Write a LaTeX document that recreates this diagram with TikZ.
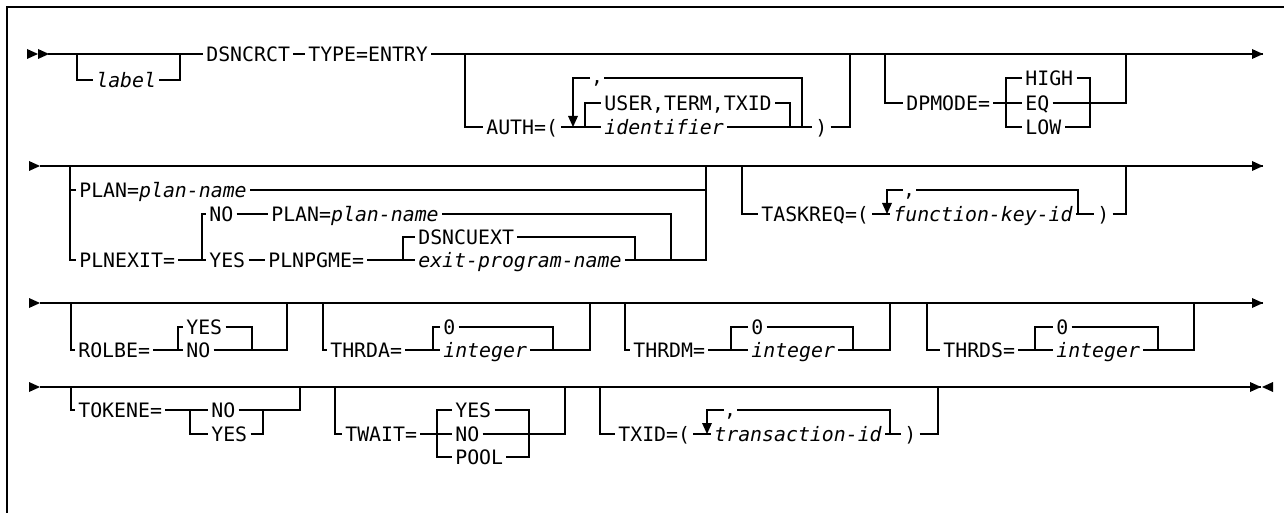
\documentclass[tikz,border=0pt]{standalone}
\usepackage{fontspec}
\setmonofont{DejaVu Sans Mono}
\usepackage{tikz}
\newcommand{\railfont}{\ttfamily\fontsize{11.3}{13}\selectfont}
\newcommand{\railgo}[2]{%
    % #1=x of tip, #2=y : arrowhead pointing right
    \fill (#1-11,#2-5) -- (#1,#2) -- (#1-11,#2+5) -- cycle;
}
\newcommand{\railback}[2]{%
    % #1=x of tip, #2=y : arrowhead pointing left
    \fill (#1+11,#2-5) -- (#1,#2) -- (#1+11,#2+5) -- cycle;
}
\newcommand{\raildown}[2]{%
    % #1=x, #2=y of tip : repeat arrow pointing down
    \fill (#1-5,#2-11) -- (#1,#2) -- (#1+5,#2-11) -- cycle;
}

\begin{document}
\begin{tikzpicture}[x=0.02cm, y=-0.02cm, line width=0.8pt,
    kw/.style={font=\railfont, inner sep=1.5pt, text height=8.2pt, text depth=0pt, anchor=west},
    var/.style={kw, font=\railfont\itshape}
]
    \useasboundingbox (0,0) rectangle (1284,513);
    \draw[line width=0.9pt] (7,513) -- (7,7) -- (1284,7);

    % row 1
    \railgo{38}{54}
    \railgo{49}{54}
    \node[kw] (dsn) at (203,54) {DSNCRCT};
    \node[kw] (type) at (305,54) {TYPE=ENTRY};
    \node[var] (label) at (93,80) {label};
    \draw (48,54) -- (dsn.west);
    \draw (77,54) |- (label.west);
    \draw (label.east) -| (180,54);
    \draw (dsn.east) -- (type.west);
    \draw (type.east) -- (1263,54);
    \railgo{1263}{54}

    \node[kw] (auth) at (483,127) {AUTH=(};
    \node[kw] (user) at (601,103) {USER,TERM,TXID};
    \node[var] (ident) at (601,127) {identifier};
    \node[kw] (aclose) at (812,127) {)};
    \node[kw, anchor=base] (acomma) at (597,84) {,};
    \draw (465,54) |- (auth.west);
    \draw (auth.east) -- (ident.west);
    \draw (585,127) |- (user.west);
    \draw (user.east) -| (790,127);
    \draw (ident.east) -- (aclose.west);
    \draw (aclose.east) -| (850,54);
    \draw (802,127) |- (604,78);
    \draw (590,78) -| (573,117);
    \raildown{573}{127}

    \node[kw] (dpm) at (903,103) {DPMODE=};
    \node[kw] (high) at (1022,78) {HIGH};
    \node[kw] (eq) at (1022,103) {EQ};
    \node[kw] (low) at (1022,127) {LOW};
    \draw (885,54) |- (dpm.west);
    \draw (dpm.east) -- (eq.west);
    \draw (high.west) -| (1006,127) -- (low.west);
    \draw (high.east) -| (1090,127) -- (low.east);
    \draw (eq.east) -| (1126,54);

    % row 2
    \railgo{40}{166}
    \draw (40,166) -- (1263,166);
    \railgo{1263}{166}
    \node[kw] (plan) at (76,190) {PLAN=\textit{plan-name}};
    \node[kw] (plnexit) at (76,260) {PLNEXIT=};
    \node[kw] (no) at (206,214) {NO};
    \node[kw] (plan2) at (268,214) {PLAN=\textit{plan-name}};
    \node[kw] (yes) at (206,260) {YES};
    \node[kw] (pgme) at (265,260) {PLNPGME=};
    \node[kw] (cuext) at (415,237) {DSNCUEXT};
    \node[var] (exitpgm) at (415,260) {exit-program-name};
    \draw (70,166) |- (plan.west);
    \draw (70,166) |- (plnexit.west);
    \draw (plan.east) -| (706,166);
    \draw (plnexit.east) -- (yes.west);
    \draw (202,260) |- (no.west);
    \draw (no.east) -- (plan2.west);
    \draw (plan2.east) -| (671,260);
    \draw (yes.east) -- (pgme.west);
    \draw (pgme.east) -- (exitpgm.west);
    \draw (403,260) |- (cuext.west);
    \draw (cuext.east) -| (635,260);
    \draw (exitpgm.east) -| (706,166);

    \node[kw] (taskreq) at (758,214) {TASKREQ=(};
    \node[var] (fkey) at (890,214) {function-key-id};
    \node[kw] (tclose) at (1094,214) {)};
    \node[kw, anchor=base] (tcomma) at (909,196) {,};
    \draw (742,166) |- (taskreq.west);
    \draw (taskreq.east) -- (fkey.west);
    \draw (fkey.east) -- (tclose.west);
    \draw (tclose.east) -| (1126,166);
    \draw (1078,214) |- (916,190);
    \draw (903,190) -| (887,204);
    \raildown{887}{214}

    % row 3
    \railgo{40}{303}
    \draw (40,303) -- (1263,303);
    \railgo{1263}{303}
    \node[kw] (rolbe) at (75,350) {ROLBE=};
    \node[kw] (ryes) at (183,327) {YES};
    \node[kw] (rno) at (183,350) {NO};
    \draw (71,303) |- (rolbe.west);
    \draw (rolbe.east) -- (rno.west);
    \draw (ryes.west) -| (178,350);
    \draw (ryes.east) -| (252,350);
    \draw (rno.east) -| (287,303);

    \node[kw] (thrda) at (327,350) {THRDA=};
    \node[kw] (azero) at (440,327) {0};
    \node[var] (aint) at (440,350) {integer};
    \draw (323,303) |- (thrda.west);
    \draw (thrda.east) -- (aint.west);
    \draw (azero.west) -| (433,350);
    \draw (azero.east) -| (553,350);
    \draw (aint.east) -| (590,303);

    \node[kw] (thrdm) at (630,350) {THRDM=};
    \node[kw] (mzero) at (748,327) {0};
    \node[var] (mint) at (748,350) {integer};
    \draw (625,303) |- (thrdm.west);
    \draw (thrdm.east) -- (mint.west);
    \draw (mzero.west) -| (731,350);
    \draw (mzero.east) -| (853,350);
    \draw (mint.east) -| (890,303);

    \node[kw] (thrds) at (940,350) {THRDS=};
    \node[kw] (szero) at (1053,327) {0};
    \node[var] (sint) at (1053,350) {integer};
    \draw (927,303) |- (thrds.west);
    \draw (thrds.east) -- (sint.west);
    \draw (szero.west) -| (1035,350);
    \draw (szero.east) -| (1158,350);
    \draw (sint.east) -| (1194,303);

    % row 4
    \railgo{40}{387}
    \draw (40,387) -- (1261,387);
    \railgo{1261}{387}
    \railback{1262}{387}
    \node[kw] (tokene) at (75,410) {TOKENE=};
    \node[kw] (tno) at (208,410) {NO};
    \node[kw] (tyes) at (208,434) {YES};
    \draw (71,387) |- (tokene.west);
    \draw (tokene.east) -- (tno.west);
    \draw (190,410) |- (tyes.west);
    \draw (tyes.east) -| (263,410);
    \draw (tno.east) -| (300,387);

    \node[kw] (twait) at (342,434) {TWAIT=};
    \node[kw] (wyes) at (452,410) {YES};
    \node[kw] (wno) at (452,434) {NO};
    \node[kw] (wpool) at (452,457) {POOL};
    \draw (335,387) |- (twait.west);
    \draw (twait.east) -- (wno.west);
    \draw (wyes.west) -| (437,457) -- (wpool.west);
    \draw (wyes.east) -| (529,457) -- (wpool.east);
    \draw (wno.east) -| (565,387);

    \node[kw] (txid) at (615,434) {TXID=(};
    \node[var] (trans) at (711,434) {transaction-id};
    \node[kw] (xclose) at (901,434) {)};
    \node[kw, anchor=base] (xcomma) at (730,416) {,};
    \draw (600,387) |- (txid.west);
    \draw (txid.east) -- (trans.west);
    \draw (trans.east) -- (xclose.west);
    \draw (xclose.east) -| (938,387);
    \draw (890,434) |- (737,410);
    \draw (724,410) -| (707,424);
    \raildown{707}{434}
\end{tikzpicture}
\end{document}
